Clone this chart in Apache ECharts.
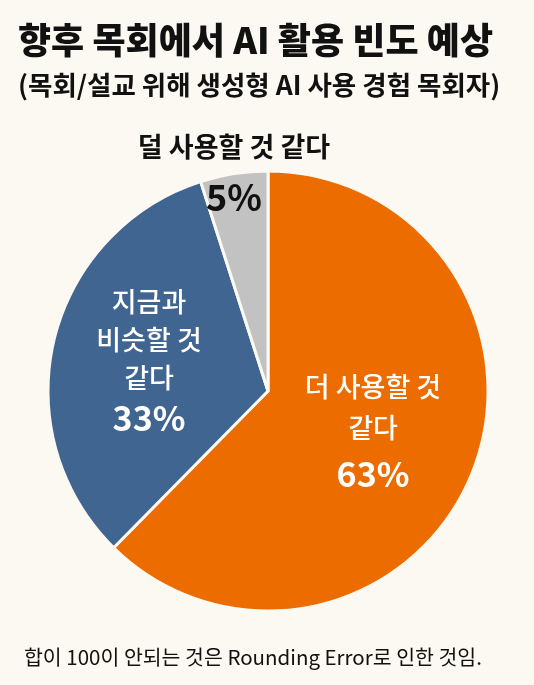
<!DOCTYPE html>
<html>
<head>
<meta charset="utf-8">
<style>
  html, body { margin: 0; padding: 0; background: #fcf8f2; }
  #chart { width: 534px; height: 685px; }
</style>
<script src="https://cdn.jsdelivr.net/npm/echarts@6/dist/echarts.min.js"></script>
</head>
<body>
<div id="chart"></div>
<script>
// data
const categories = ['더 사용할 것 같다', '지금과 비슷할 것 같다', '덜 사용할 것 같다']
const values = [63, 33, 5]
const colors = ['#ed6c00', '#3f6590', '#c2c2c2']

const FONT = '"Noto Sans CJK KR", "Noto Sans", sans-serif'

// label anchor points (block centers)
const labelPos = [[373, 433], [149, 361], [234, 172]]

const formatters = [
  p => '더 사용할 것\n같다\n{p|' + p.value + '%}',
  p => '지금과\n비슷할 것\n같다\n{p|' + p.value + '%}',
  p => '{n|' + p.name + '}\n{g|' + p.value + '%}'
]

const myChart = echarts.init(document.getElementById('chart'))

myChart.setOption({
  backgroundColor: '#fcf8f2',
  title: [
    {
      text: '향후 목회에서 AI 활용 빈도 예상',
      left: 13,
      top: 17,
      textStyle: { fontFamily: FONT, fontSize: 36, fontWeight: 900, color: '#111' }
    },
    {
      text: '(목회/설교 위해 생성형 AI 사용 경험 목회자)',
      left: 13,
      top: 67,
      textStyle: { fontFamily: FONT, fontSize: 26.5, fontWeight: 'bold', color: '#111' }
    },
    {
      text: '합이 100이 안되는 것은 Rounding Error로 인한 것임.',
      left: 19,
      top: 642,
      textStyle: { fontFamily: FONT, fontSize: 20.5, fontWeight: 'normal', color: '#111' }
    }
  ],
  series: [
    {
      type: 'pie',
      center: [268, 391],
      radius: 220,
      startAngle: 90,
      clockwise: true,
      silent: true,
      itemStyle: { borderColor: '#fcf8f2', borderWidth: 3 },
      labelLine: { show: false },
      data: categories.map((name, i) => ({
        name: name,
        value: values[i],
        itemStyle: { color: colors[i] },
        label: {
          show: true,
          position: 'inside',
          formatter: formatters[i],
          fontFamily: FONT,
          fontSize: 27,
          fontWeight: 500,
          color: i === 2 ? '#111' : '#fff',
          lineHeight: i === 0 ? 41 : 38,
          align: 'center',
          rich: {
            p: { fontFamily: FONT, fontSize: 34, fontWeight: 'bold', color: '#fff', lineHeight: i === 0 ? 52 : 42 },
            n: { fontFamily: FONT, fontSize: 27, fontWeight: 'bold', color: '#111', lineHeight: 50 },
            g: { fontFamily: FONT, fontSize: 36, fontWeight: 'bold', color: '#111', lineHeight: 50 }
          }
        }
      })),
      labelLayout: params => ({
        x: labelPos[params.dataIndex][0],
        y: labelPos[params.dataIndex][1],
        align: 'center',
        verticalAlign: 'middle'
      })
    }
  ]
})
</script>
</body>
</html>
